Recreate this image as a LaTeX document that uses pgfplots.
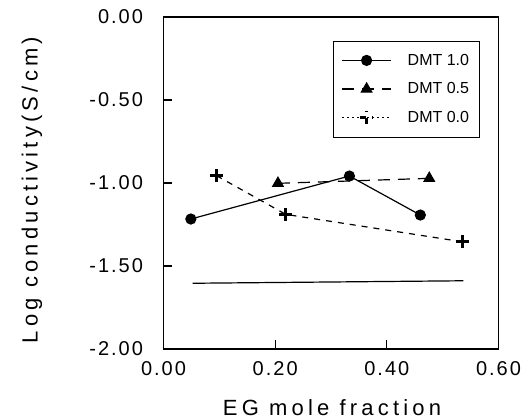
\documentclass[border=0pt]{standalone}
\usepackage{pgfplots}
\pgfplotsset{compat=1.18}
\usepackage{fontspec}
\setmainfont{Liberation Sans}
\newfontfamily\spaced[LetterSpace=10]{Liberation Sans}
\newfontfamily\wide[LetterSpace=19]{Liberation Sans}
\begin{document}
\begin{tikzpicture}
\useasboundingbox (-163.5pt,-71pt) rectangle (366.5pt,349pt);
\begin{axis}[
  scale only axis,
  width=335pt, height=332pt,
  at={(0pt,0pt)}, anchor=south west,
  xmin=0, xmax=0.6, ymin=-2, ymax=0,
  xtick={0,0.2,0.4,0.6},
  xticklabels={0.00,0.20,0.40,0.60},
  ytick={-2,-1.5,-1,-0.5,0},
  yticklabels={-2.00,-1.50,-1.00,-0.50,0.00},
  tick align=inside, tick pos=left,
  major tick length=9pt,
  tick style={line width=1.2pt, black},
  axis line style={line width=1.4pt},
  xticklabel style={font=\spaced\fontsize{20}{20}\selectfont, yshift=-9pt},
  yticklabel style={font=\spaced\fontsize{20}{20}\selectfont, xshift=-17pt},
  xlabel={EG mole fraction},
  ylabel={Log conductivity(S/cm)},
  every axis x label/.style={at={(axis description cs:0.503,-0.178)}, anchor=center,
    font=\wide\fontsize{22}{22}\selectfont},
  every axis y label/.style={at={(axis description cs:-0.393,0.479)}, anchor=center,
    rotate=90, font=\wide\fontsize{22}{22}\selectfont},
  legend cell align=left,
  legend style={at={(0.506,0.929)}, anchor=north west, draw=black,
    line width=1pt, font=\fontsize{16}{16}\selectfont,
    row sep=12pt, inner xsep=8pt, inner ysep=11pt},
  legend image code/.code={
    \draw[#1, mark repeat=2, mark phase=2] plot coordinates {(0pt,0pt) (24.5pt,0pt) (49pt,0pt)};},
  clip=false,
]
\addplot[black, line width=1.2pt, mark=*, mark size=5pt,
  mark options={solid}] coordinates {(0.049,-1.217) (0.333,-0.958) (0.460,-1.193)};
\addlegendentry{\hspace{14pt}DMT 1.0}
\addplot[black, line width=1.2pt, dash pattern=on 12pt off 8pt, mark=triangle*,
  mark size=6pt, mark options={solid}] coordinates {(0.205,-1.002) (0.476,-0.972)};
\addlegendentry{\hspace{14pt}DMT 0.5}
\addplot[black, line width=1.2pt, dash pattern=on 6pt off 6pt, mark=+,
  mark size=6.5pt, mark options={solid, line width=3.2pt},
  legend image code/.code={
    \draw[black, line width=1.2pt, dash pattern=on 2pt off 3pt] (0pt,0pt) -- (49pt,0pt);
    \draw[black, line width=3.2pt] (18pt,0pt) -- (31pt,0pt) (24.5pt,-6.5pt) -- (24.5pt,6.5pt);}]
  coordinates {(0.095,-0.956) (0.219,-1.189) (0.535,-1.354)};
\addlegendentry{\hspace{14pt}DMT 0.0}
\addplot[black, line width=1.2pt, forget plot] coordinates {(0.052,-1.604) (0.537,-1.589)};
\end{axis}
\end{tikzpicture}
\end{document}
